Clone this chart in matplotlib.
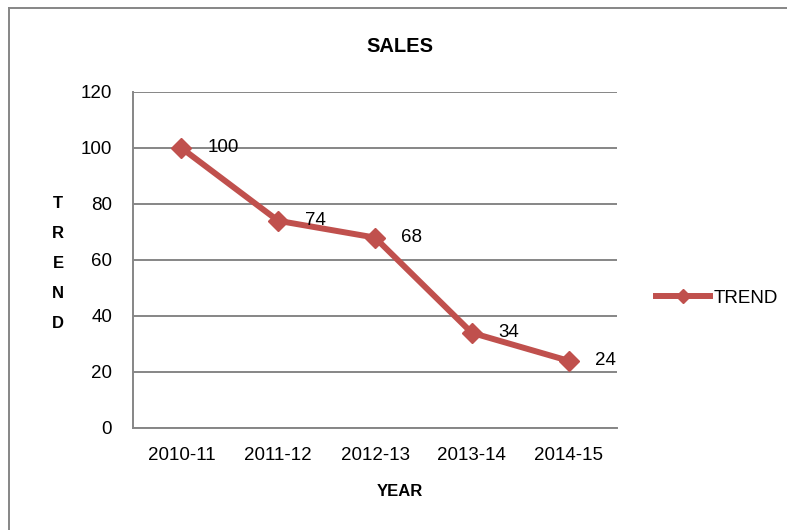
import matplotlib.pyplot as plt
from matplotlib.lines import Line2D

# Datos de ventas por año fiscal
years = ['2010-11', '2011-12', '2012-13', '2013-14', '2014-15']
trend = [100, 74, 68, 34, 24]
y_ticks = [0, 20, 40, 60, 80, 100, 120]

red = '#C0504D'
grid_gray = '#868686'
font = 'Liberation Sans'

fig = plt.figure(figsize=(7.87, 5.30), dpi=100)
ax = fig.add_axes([133 / 787, 102 / 530, 484 / 787, 336 / 530])

x = list(range(len(years)))
ax.plot(x, trend, color=red, linewidth=4.3, marker='D', markersize=10.5,
        markeredgecolor=red, label='TREND', zorder=3)

# Etiquetas de valor a la derecha de cada punto
for xi, v in zip(x, trend):
    ax.annotate(str(v), (xi, v), xytext=(19, 0), textcoords='offset points',
                va='center', ha='left', fontsize=13.5, family=font)

ax.set_xlim(-0.5, len(years) - 0.5)
ax.set_ylim(0, 120)
ax.set_yticks(y_ticks)
ax.set_xticks(x)
ax.set_xticklabels(years)
ax.tick_params(length=0, labelsize=13.5, pad=14)
ax.tick_params(axis='y', pad=15)
for lbl in ax.get_xticklabels() + ax.get_yticklabels():
    lbl.set_family(font)

ax.yaxis.grid(True, color=grid_gray, linewidth=1.4)
ax.set_axisbelow(True)
for side in ['top', 'right']:
    ax.spines[side].set_visible(False)
for side in ['left', 'bottom']:
    ax.spines[side].set_color(grid_gray)
    ax.spines[side].set_linewidth(1.4)

fig.text(400 / 787, 1 - 46 / 530, 'SALES', ha='center', va='center',
         fontsize=14.5, fontweight='bold', family=font)
fig.text(400 / 787, 1 - 491 / 530, 'YEAR', ha='center', va='center',
         fontsize=12, fontweight='bold', family=font)
fig.text(58 / 787, 1 - 264 / 530, 'T\nR\nE\nN\nD', ha='center', va='center',
         fontsize=12, fontweight='bold', family=font, linespacing=2.25)

# Leyenda fuera del área de trazado
handle = Line2D([], [], color=red, linewidth=4.3, marker='D', markersize=7,
                markeredgecolor=red)
fig.legend([handle], ['TREND'], loc='center left',
           bbox_to_anchor=(656 / 787, 1 - 298 / 530), frameon=False,
           prop={'family': font, 'size': 13.5}, handlelength=2.9,
           handletextpad=0.2, borderpad=0, borderaxespad=0)

# Marco del gráfico
fig.add_artist(Line2D([9 / 787, 9 / 787], [0, 1 - 8 / 530],
                      color=grid_gray, linewidth=1.4))
fig.add_artist(Line2D([9 / 787, 1], [1 - 8 / 530, 1 - 8 / 530],
                      color=grid_gray, linewidth=1.4))

fig.savefig('out.png', dpi=100)
